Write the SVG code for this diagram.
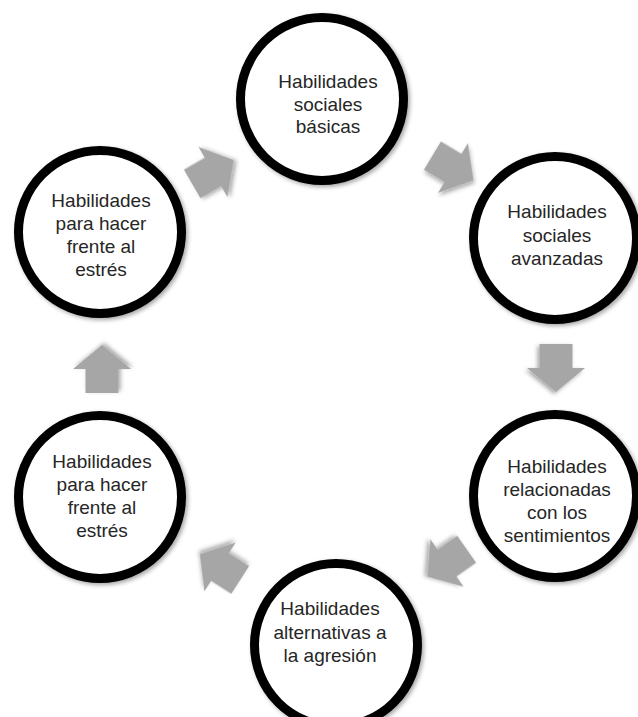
<svg xmlns="http://www.w3.org/2000/svg" width="638" height="717" viewBox="0 0 638 717">
<defs>
<style>
.node circle{fill:#fff;stroke:#000;stroke-width:9;filter:url(#sh)}
.node text{font-family:"Liberation Sans",Arial,sans-serif;font-size:19px;fill:#262626;text-anchor:middle}
.arr{fill:#a6a6a6;filter:url(#sh)}
</style>
<filter id="sh" x="-20%" y="-20%" width="140%" height="140%">
<feDropShadow dx="2" dy="2" stdDeviation="2" flood-color="#000" flood-opacity="0.35"/>
</filter>
<path id="ar" d="M-24,-16.5 L0,-16.5 L0,-29 L24,0 L0,29 L0,16.5 L-24,16.5 Z"/>
</defs>
<rect width="638" height="717" fill="#fff"/>
<g id="connectors">
<use href="#ar" class="arr" transform="translate(213,172) rotate(-30)"/>
<use href="#ar" class="arr" transform="translate(453,168) rotate(31)"/>
<use href="#ar" class="arr" transform="translate(556,368) rotate(90)"/>
<use href="#ar" class="arr" transform="translate(447,563) rotate(145)"/>
<use href="#ar" class="arr" transform="translate(220,567) rotate(212.6)"/>
<use href="#ar" class="arr" transform="translate(102,369) rotate(-90)"/>
</g>
<g id="n1" class="node"><circle cx="322" cy="99" r="81.5"/>
<text x="328" y="88">Habilidades</text><text x="328" y="110.5">sociales</text><text x="328" y="133">básicas</text></g>
<g id="n2" class="node"><circle cx="555" cy="238" r="81.5"/>
<text x="557" y="218">Habilidades</text><text x="557" y="241.5">sociales</text><text x="557" y="265">avanzadas</text></g>
<g id="n3" class="node"><circle cx="555" cy="496" r="81.5"/>
<text x="557" y="473">Habilidades</text><text x="557" y="496">relacionadas</text><text x="557" y="519">con los</text><text x="557" y="542">sentimientos</text></g>
<g id="n4" class="node"><circle cx="336" cy="645" r="81.5"/>
<text x="330" y="615">Habilidades</text><text x="330" y="638.5">alternativas a</text><text x="330" y="662">la agresión</text></g>
<g id="n5" class="node"><circle cx="100" cy="497" r="81.5"/>
<text x="102" y="468">Habilidades</text><text x="102" y="491">para hacer</text><text x="102" y="514">frente al</text><text x="102" y="537">estrés</text></g>
<g id="n6" class="node"><circle cx="100" cy="232" r="81.5"/>
<text x="101" y="207">Habilidades</text><text x="101" y="230">para hacer</text><text x="101" y="253">frente al</text><text x="101" y="276">estrés</text></g>
</svg>
